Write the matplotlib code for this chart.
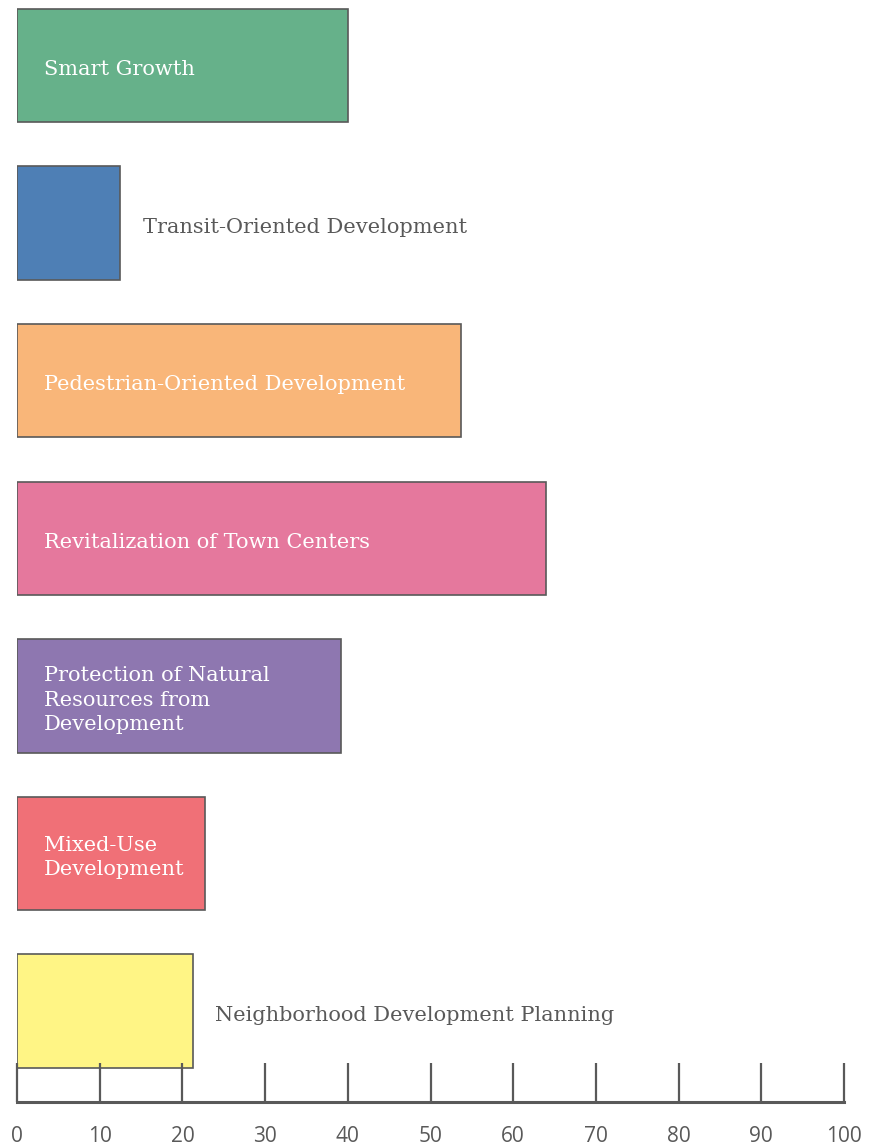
import matplotlib
matplotlib.use("Agg")
import matplotlib.pyplot as plt

# ---- data ----
labels = [
    "Smart Growth",
    "Transit-Oriented Development",
    "Pedestrian-Oriented Development",
    "Revitalization of Town Centers",
    "Protection of Natural\nResources from\nDevelopment",
    "Mixed-Use\nDevelopment",
    "Neighborhood Development Planning",
]
values = [40, 12.5, 53.7, 64, 39.2, 22.7, 21.3]
colors = ["#66B18A", "#4E7FB5", "#F9B679", "#E5789D", "#8E77B0", "#F07077", "#FFF585"]
inside = [True, False, True, True, True, True, False]
xticks = list(range(0, 101, 10))

gray = "#595959"

fig = plt.figure(figsize=(8.76, 11.46), dpi=100)
ax = fig.add_axes([17 / 876, 44 / 1146, (844 - 17) / 876, (1139 - 44) / 1146])

ypos = list(range(len(labels)))
ax.barh(ypos, values, height=0.72, color=colors, edgecolor=gray, linewidth=1.2)

for y, v, lab, ins in zip(ypos, values, labels, inside):
    if ins:
        ax.annotate(lab, xy=(0, y), xytext=(19.5, -3), textcoords="offset points",
                    ha="left", va="center", color="white", fontsize=15,
                    family="DejaVu Serif", linespacing=1.35)
    else:
        ax.annotate(lab, xy=(v, y), xytext=(16, -3), textcoords="offset points",
                    ha="left", va="center", color=gray, fontsize=15,
                    family="DejaVu Serif")

ax.set_xlim(0, 100)
ax.set_ylim(6.576, -0.37)
ax.set_xticks(xticks)
ax.set_yticks([])
for s in ["top", "right", "left"]:
    ax.spines[s].set_visible(False)
ax.spines["bottom"].set_color(gray)
ax.spines["bottom"].set_linewidth(2.2)
ax.tick_params(axis="x", direction="in", length=28, width=1.6, color=gray,
               labelcolor=gray, labelsize=15, pad=17)
for t in ax.get_xticklabels():
    t.set_family("Open Sans")
ax.set_facecolor("none")

fig.savefig("out.png", dpi=100)
